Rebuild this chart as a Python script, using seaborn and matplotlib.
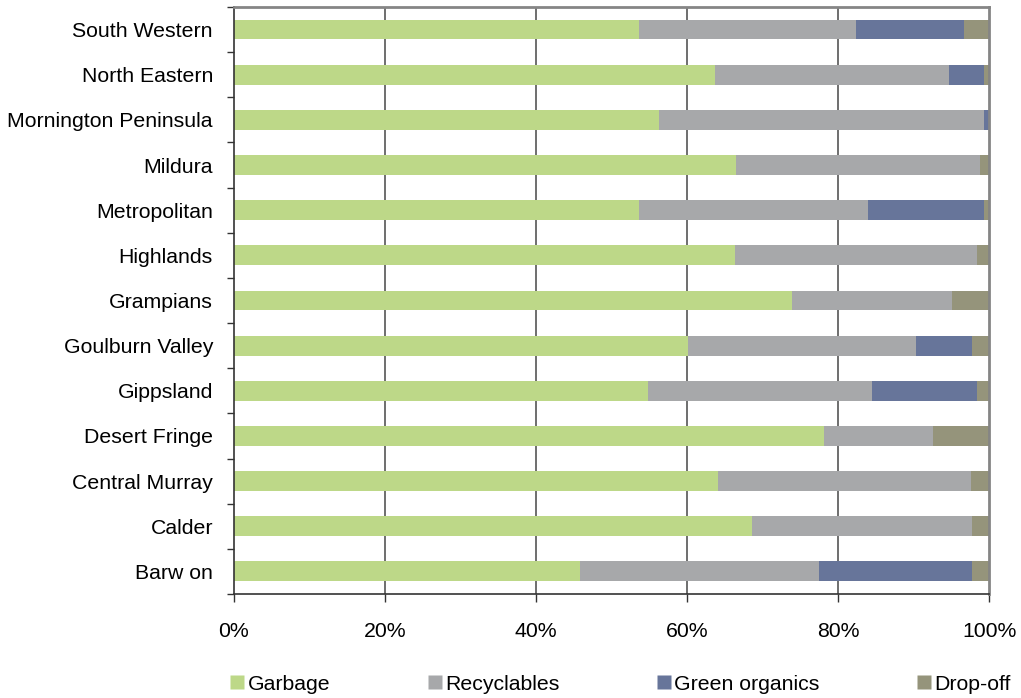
import matplotlib
matplotlib.use("Agg")
import matplotlib.pyplot as plt
from matplotlib.lines import Line2D
from matplotlib.ticker import FixedLocator, PercentFormatter
import numpy as np
import pandas as pd
import seaborn as sns

regions = ["South Western", "North Eastern", "Mornington Peninsula", "Mildura",
           "Metropolitan", "Highlands", "Grampians", "Goulburn Valley",
           "Gippsland", "Desert Fringe", "Central Murray", "Calder", "Barw on"]
garbage = [53.6, 63.7, 56.3, 66.5, 53.6, 66.4, 73.9, 60.1, 54.8, 78.1, 64.1, 68.6, 45.8]
recyclables = [28.8, 30.9, 43.0, 32.3, 30.4, 31.9, 21.1, 30.2, 29.7, 14.4, 33.5, 29.1, 31.7]
green_organics = [14.2, 4.7, 0.7, 0.0, 15.3, 0.0, 0.0, 7.4, 13.8, 0.0, 0.0, 0.0, 20.2]
drop_off = [3.4, 0.7, 0.0, 1.2, 0.7, 1.7, 5.0, 2.3, 1.7, 7.5, 2.4, 2.3, 2.3]

series_names = ["Garbage", "Recyclables", "Green organics", "Drop-off"]
series_colors = ["#BDD888", "#A7A8AA", "#67759A", "#95947B"]

df = pd.DataFrame({"region": regions, "Garbage": garbage, "Recyclables": recyclables,
                   "Green organics": green_organics, "Drop-off": drop_off})
cum = df[series_names].cumsum(axis=1)

sns.set_theme(style="white")
plt.rcParams["font.family"] = ["Liberation Sans", "DejaVu Sans"]
plt.rcParams["text.color"] = "black"
plt.rcParams["xtick.color"] = "black"
plt.rcParams["ytick.color"] = "black"

FS = 15.3

fig = plt.figure(figsize=(10.21, 6.98), dpi=100)
ax = fig.add_axes([0.229, 0.149, 0.740, 0.841])

# stacked bars: draw cumulative totals from the outermost segment inward
for name, color in zip(series_names[::-1], series_colors[::-1]):
    sns.barplot(x=cum[name], y=df["region"], orient="h", color=color,
                width=0.44, ax=ax, saturation=1, edgecolor="none", linewidth=0)

ax.set_xlim(0, 100)
ax.set_ylim(12.5, -0.5)
ax.set_xlabel("")
ax.set_ylabel("")

ax.xaxis.set_major_locator(FixedLocator([0, 20, 40, 60, 80, 100]))
ax.xaxis.set_major_formatter(PercentFormatter(decimals=0))
ax.tick_params(axis="x", which="major", direction="out", length=6, width=1,
               color="#333333", labelsize=FS, pad=14, bottom=True)
ax.tick_params(axis="y", which="major", length=0, labelsize=FS, pad=15)
ax.yaxis.set_minor_locator(FixedLocator(np.arange(-0.5, 13, 1)))
ax.tick_params(axis="y", which="minor", direction="out", length=5, width=1,
               color="#333333", left=True)

for x in [20, 40, 60, 80]:
    ax.axvline(x, color="#555555", linewidth=1.2, zorder=0)

for side in ["left", "bottom"]:
    ax.spines[side].set_color("#333333")
    ax.spines[side].set_linewidth(1.2)
for side in ["top", "right"]:
    ax.spines[side].set_color("#858585")
    ax.spines[side].set_linewidth(2)

handles = [Line2D([0], [0], marker="s", linestyle="none", markersize=10.5,
                  markerfacecolor=c, markeredgecolor="none") for c in series_colors]
fig.legend(handles, series_names, loc="center", bbox_to_anchor=(0.607, 0.02),
           ncol=4, frameon=False, fontsize=FS, handletextpad=0.1,
           columnspacing=4.5, handlelength=0.8)

fig.savefig("out.png", dpi=100)
